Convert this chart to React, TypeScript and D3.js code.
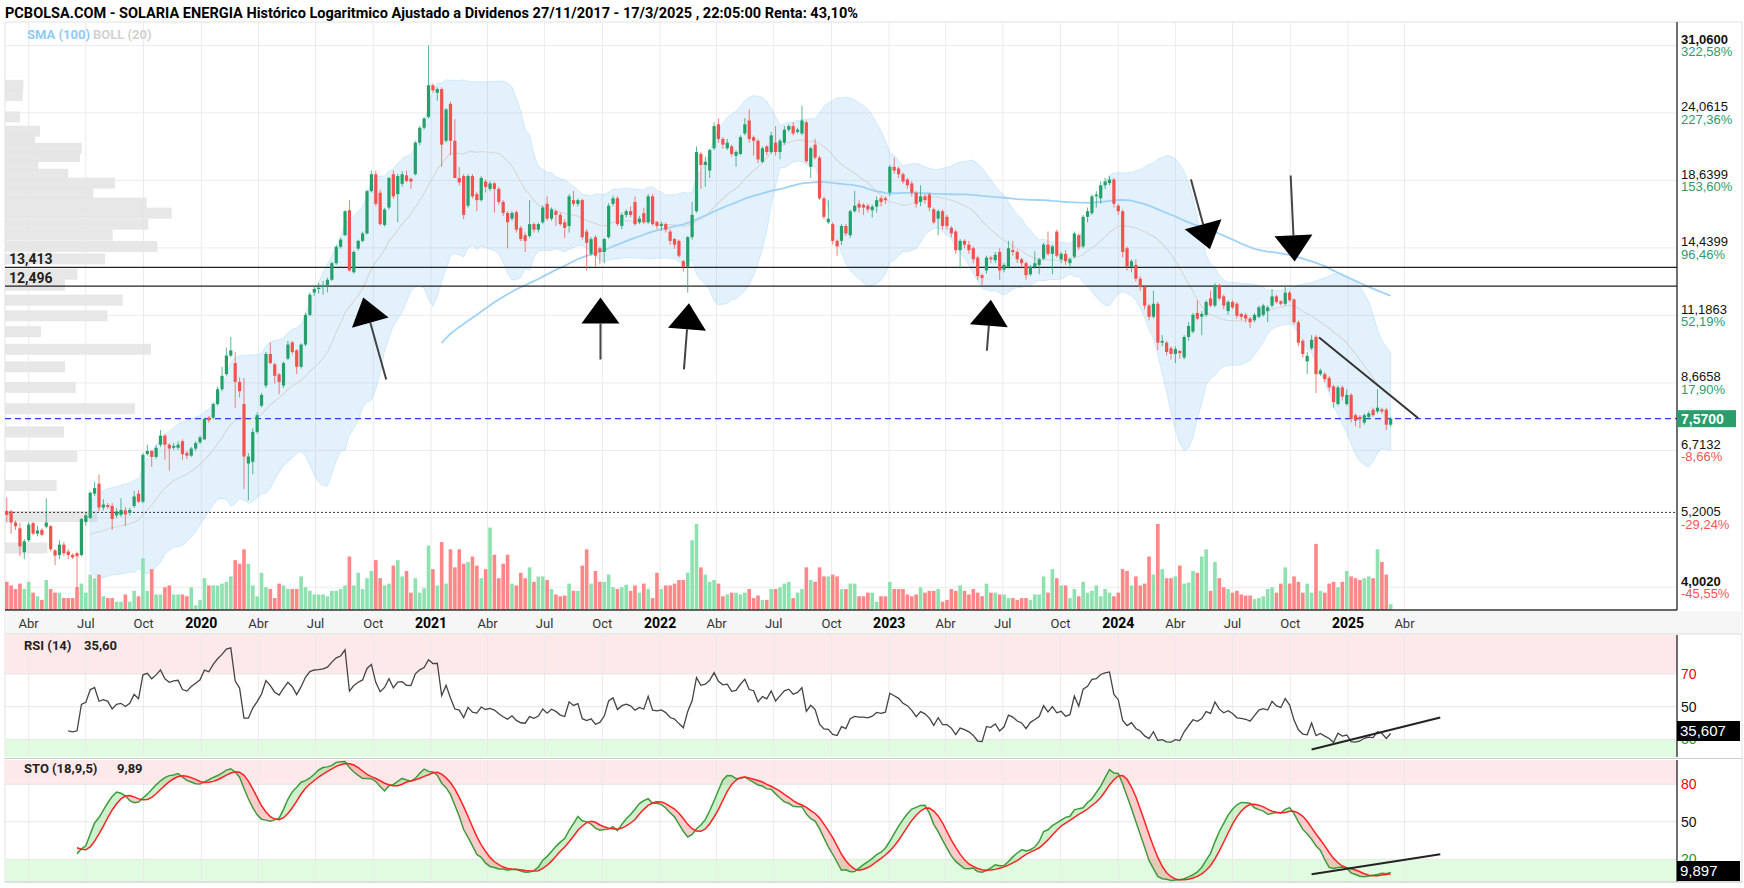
import React from 'react';
import * as d3 from 'd3';

// weekly candles, first one is the week of 25 Feb 2019
const firstWeek = new Date(2019, 1, 25);

const opens = [
  5.34, 5.33, 5.11, 5.00, 4.57, 4.78, 5.10, 4.90, 4.97, 5.03,
  5.04, 4.60, 4.52, 4.70, 4.58, 4.52, 4.55, 4.52, 5.12, 5.20,
  5.70, 5.92, 5.41, 5.46, 5.44, 5.25, 5.26, 5.35, 5.30, 5.44,
  5.70, 5.53, 6.62, 6.70, 6.55, 6.86, 7.10, 6.86, 6.78, 6.78,
  6.95, 6.65, 6.58, 6.76, 6.92, 7.00, 7.60, 7.60, 8.00, 8.46,
  8.96, 9.61, 9.34, 8.70, 8.00, 6.39, 6.43, 7.20, 7.95, 8.58,
  9.67, 9.30, 8.95, 8.58, 9.50, 10.10, 9.80, 9.21, 10.02, 11.21,
  12.20, 12.36, 12.45, 12.54, 12.80, 13.63, 14.50, 15.15, 16.65, 13.17,
  14.40, 14.83, 15.25, 17.90, 19.08, 17.79, 15.75, 16.82, 19.08, 17.70,
  18.40, 19.00, 18.75, 19.08, 21.50, 22.75, 23.70, 26.71, 25.97, 26.33,
  21.65, 24.90, 21.65, 18.81, 18.95, 16.94, 18.95, 17.70, 17.30, 18.56,
  18.05, 18.43, 18.05, 17.18, 16.48, 16.13, 16.53, 15.58, 15.15, 15.10,
  15.80, 15.47, 15.91, 17.06, 16.13, 16.59, 16.36, 15.91, 15.69, 17.30,
  17.06, 17.30, 15.36, 14.12, 15.04, 14.42, 14.22, 15.04, 17.06, 17.42,
  15.69, 16.36, 16.59, 17.18, 15.91, 16.47, 15.91, 17.55, 15.91, 15.69,
  15.80, 15.36, 14.93, 14.83, 13.73, 13.44, 15.04, 16.59, 20.60, 19.76,
  19.35, 21.05, 23.05, 21.80, 21.05, 21.20, 20.46, 20.60, 22.26, 23.38,
  21.95, 21.65, 20.00, 21.20, 20.75, 21.50, 20.75, 21.50, 22.58, 22.89,
  22.40, 22.26, 23.22, 19.62, 21.34, 20.32, 17.42, 15.91, 15.80, 14.83,
  14.83, 15.69, 15.15, 16.59, 17.06, 17.00, 16.94, 16.65, 16.88, 17.42,
  17.42, 17.80, 19.62, 19.50, 19.08, 18.70, 18.43, 17.79, 17.18, 17.55,
  17.67, 16.71, 16.13, 16.59, 16.24, 15.58, 15.36, 14.32, 14.83, 14.62,
  14.42, 13.92, 13.02, 13.26, 13.92, 13.78, 14.22, 13.30, 13.44, 14.32,
  14.22, 13.83, 13.63, 13.07, 13.44, 13.54, 13.87, 14.62, 14.12, 15.36,
  13.83, 14.12, 13.63, 13.97, 15.15, 14.52, 16.24, 16.47, 17.55, 17.42,
  18.30, 18.45, 18.70, 16.94, 16.59, 14.42, 13.44, 13.54, 12.85, 12.45,
  11.61, 11.13, 11.69, 10.09, 10.09, 9.88, 9.67, 9.78, 9.54, 10.31,
  10.52, 11.29, 11.13, 11.21, 11.93, 11.61, 12.54, 12.02, 11.37, 11.77,
  11.69, 11.25, 11.21, 11.05, 10.98, 11.13, 11.21, 11.37, 11.61, 12.02,
  11.80, 11.69, 12.19, 11.88, 10.90, 10.16, 9.40, 9.88, 10.31, 8.96,
  8.96, 8.83, 8.55, 8.00, 8.52, 8.00, 8.28, 7.67, 7.62, 7.46,
  7.62, 7.83, 7.78, 7.84, 7.83, 7.40,
];

const highs = [
  5.62, 5.36, 5.15, 5.10, 4.80, 5.12, 5.12, 5.05, 5.00, 5.60,
  5.06, 4.62, 4.78, 4.75, 4.62, 4.55, 4.58, 5.20, 5.30, 5.75,
  5.96, 6.13, 5.58, 5.50, 5.50, 5.40, 5.60, 5.42, 5.40, 5.76,
  5.78, 6.65, 6.86, 6.72, 6.85, 7.25, 7.15, 6.90, 6.90, 6.95,
  7.00, 6.70, 6.80, 6.95, 7.10, 7.60, 7.65, 8.05, 8.55, 9.21,
  9.90, 10.31, 9.74, 8.85, 8.83, 6.65, 7.30, 7.75, 8.35, 9.74,
  10.09, 9.35, 9.00, 9.40, 10.16, 10.15, 9.85, 10.06, 11.30, 12.20,
  12.55, 12.65, 12.75, 12.90, 13.70, 14.60, 15.00, 16.65, 17.30, 14.30,
  14.90, 15.35, 18.00, 19.35, 19.35, 18.00, 16.80, 18.90, 19.35, 19.10,
  19.30, 19.35, 18.85, 21.65, 22.90, 23.70, 31.06, 26.90, 26.50, 26.50,
  24.50, 25.10, 23.50, 19.60, 19.10, 19.10, 19.10, 17.85, 18.95, 18.70,
  18.60, 18.55, 18.20, 17.30, 16.60, 16.60, 16.65, 15.70, 15.30, 17.30,
  15.90, 15.90, 16.95, 17.55, 16.82, 16.70, 16.50, 16.10, 17.70, 17.90,
  17.40, 17.40, 15.50, 15.05, 15.15, 14.50, 15.00, 17.10, 17.60, 17.55,
  16.50, 16.70, 16.90, 17.55, 16.30, 16.80, 17.70, 17.70, 16.00, 15.95,
  15.90, 15.50, 15.00, 14.90, 13.80, 15.10, 17.18, 21.20, 20.75, 20.40,
  21.00, 23.22, 23.54, 21.95, 21.80, 21.34, 20.90, 22.10, 23.60, 24.38,
  22.10, 21.80, 21.20, 21.30, 22.40, 22.90, 21.80, 22.89, 23.05, 23.22,
  22.74, 24.73, 23.38, 21.20, 21.80, 20.46, 17.55, 17.30, 15.90, 14.90,
  15.80, 15.80, 16.70, 17.92, 17.30, 17.10, 17.06, 17.00, 17.55, 17.55,
  17.55, 19.76, 20.32, 19.62, 19.20, 18.81, 18.60, 17.90, 18.30, 17.70,
  17.79, 16.82, 16.70, 16.70, 16.36, 15.69, 15.47, 14.93, 14.93, 14.83,
  14.52, 14.02, 13.10, 14.02, 14.02, 14.22, 14.42, 13.63, 14.83, 14.83,
  14.32, 13.92, 13.73, 13.54, 14.25, 13.92, 14.72, 15.36, 14.62, 15.47,
  14.22, 14.32, 13.92, 15.36, 15.25, 16.36, 16.82, 17.67, 17.90, 18.56,
  18.81, 18.95, 18.81, 17.06, 16.70, 14.52, 13.83, 13.83, 12.98, 12.54,
  11.69, 12.28, 11.77, 10.38, 10.16, 9.95, 9.95, 9.81, 10.38, 10.90,
  11.29, 11.85, 11.37, 11.85, 12.28, 12.64, 12.62, 12.10, 11.85, 11.85,
  11.77, 11.29, 11.29, 11.13, 11.29, 11.61, 11.69, 11.61, 12.36, 12.10,
  11.85, 12.54, 12.28, 11.93, 10.98, 10.23, 9.74, 10.38, 10.38, 9.15,
  9.02, 8.90, 8.60, 8.58, 8.58, 8.46, 8.34, 7.72, 7.67, 7.72,
  7.78, 7.89, 8.46, 7.89, 7.89, 7.62,
];

const lows = [
  5.11, 4.90, 4.97, 4.50, 4.45, 4.75, 4.87, 4.85, 4.85, 5.00,
  4.58, 4.35, 4.45, 4.50, 4.45, 4.45, 3.98, 4.50, 5.05, 5.18,
  5.65, 5.33, 5.35, 5.38, 4.97, 5.20, 5.22, 5.04, 5.25, 5.40,
  5.50, 5.50, 6.58, 6.31, 6.50, 6.80, 6.48, 6.22, 6.72, 6.72,
  6.48, 6.50, 6.55, 6.70, 6.88, 6.98, 7.45, 7.55, 7.95, 8.40,
  8.90, 9.55, 7.89, 8.20, 5.80, 5.56, 6.13, 7.15, 7.90, 8.50,
  9.30, 8.65, 8.30, 8.50, 9.45, 9.65, 8.96, 9.15, 9.95, 11.15,
  12.05, 12.15, 12.10, 12.20, 12.75, 13.55, 14.40, 15.10, 13.20, 13.10,
  14.30, 14.75, 15.20, 17.80, 16.90, 15.70, 15.65, 16.70, 17.40, 15.91,
  18.20, 18.50, 18.05, 19.00, 21.30, 22.60, 23.55, 26.00, 25.20, 19.62,
  21.50, 20.50, 18.80, 18.30, 16.10, 16.80, 17.40, 16.60, 17.20, 17.80,
  17.90, 16.50, 17.00, 16.30, 14.42, 16.00, 15.30, 14.80, 14.22, 15.00,
  15.30, 15.30, 15.80, 16.00, 16.00, 15.70, 15.70, 15.00, 15.30, 16.90,
  16.90, 14.90, 13.26, 14.00, 13.44, 13.60, 13.63, 14.95, 16.90, 15.70,
  15.50, 16.20, 16.20, 15.70, 15.80, 15.80, 15.80, 15.70, 15.50, 15.40,
  15.30, 14.60, 14.40, 13.90, 13.20, 12.19, 14.90, 16.50, 18.05, 18.20,
  18.81, 20.90, 21.50, 21.00, 20.90, 20.40, 19.62, 20.50, 22.10, 21.50,
  20.46, 19.90, 19.90, 20.50, 20.60, 20.46, 20.18, 21.34, 22.40, 22.10,
  22.26, 22.10, 19.90, 18.81, 20.18, 17.30, 16.10, 15.80, 14.62, 14.02,
  14.60, 15.10, 15.00, 16.50, 16.50, 16.36, 16.50, 16.20, 16.50, 16.90,
  17.06, 17.55, 19.10, 18.80, 18.40, 18.05, 17.55, 16.82, 16.90, 17.06,
  16.59, 15.80, 15.15, 15.47, 15.47, 15.04, 14.12, 13.35, 14.42, 14.12,
  13.63, 12.80, 12.54, 13.10, 13.63, 13.63, 12.80, 13.17, 13.35, 14.02,
  13.63, 13.35, 12.80, 12.98, 13.35, 13.07, 13.78, 14.02, 13.07, 13.92,
  13.63, 13.54, 13.35, 13.87, 14.32, 14.42, 15.91, 16.36, 16.82, 17.06,
  18.05, 18.30, 16.82, 16.36, 13.92, 13.26, 13.17, 12.71, 12.28, 11.45,
  10.98, 11.05, 9.81, 9.95, 9.61, 9.47, 9.34, 9.50, 9.47, 10.16,
  10.45, 10.98, 10.38, 11.13, 11.53, 11.53, 11.85, 11.45, 11.21, 11.45,
  11.05, 10.98, 10.90, 10.67, 10.90, 11.05, 11.13, 10.90, 11.53, 11.69,
  11.61, 11.61, 11.77, 10.82, 9.95, 9.54, 8.96, 9.81, 8.34, 8.90,
  8.70, 8.40, 7.89, 7.95, 8.11, 7.95, 7.46, 7.35, 7.30, 7.40,
  7.56, 7.62, 7.72, 7.72, 7.25, 7.35,
];

const closes = [
  5.26, 5.11, 5.04, 4.67, 4.76, 5.07, 4.90, 4.96, 4.88, 5.11,
  4.62, 4.51, 4.70, 4.55, 4.52, 4.48, 4.50, 5.18, 5.25, 5.72,
  5.82, 5.41, 5.47, 5.42, 5.18, 5.33, 5.36, 5.27, 5.36, 5.64,
  5.53, 6.60, 6.70, 6.55, 6.78, 7.10, 6.86, 6.76, 6.83, 6.86,
  6.62, 6.58, 6.76, 6.90, 7.05, 7.56, 7.52, 8.00, 8.46, 8.90,
  9.61, 9.80, 8.70, 8.40, 6.56, 6.56, 7.20, 7.67, 8.28, 9.67,
  9.34, 8.90, 8.70, 9.34, 10.02, 9.74, 9.21, 10.02, 11.21, 12.10,
  12.36, 12.42, 12.55, 12.80, 13.63, 14.50, 14.90, 16.59, 13.26, 14.22,
  14.83, 15.25, 17.90, 19.08, 17.06, 15.80, 16.70, 18.81, 17.55, 18.95,
  19.08, 18.60, 18.56, 21.50, 22.75, 23.55, 26.71, 26.21, 26.33, 21.34,
  24.38, 21.65, 18.81, 18.50, 16.36, 18.95, 17.55, 17.30, 18.81, 18.18,
  18.43, 18.05, 17.18, 16.48, 15.91, 16.48, 15.47, 14.93, 14.83, 15.80,
  15.47, 15.80, 16.82, 16.13, 16.70, 16.36, 15.80, 15.58, 17.55, 17.06,
  17.30, 15.04, 14.72, 14.93, 14.02, 14.22, 14.93, 16.94, 17.42, 15.80,
  16.36, 16.59, 16.36, 15.80, 16.13, 15.91, 17.55, 15.80, 15.69, 15.80,
  15.47, 14.83, 14.62, 14.02, 13.44, 15.04, 16.36, 20.75, 19.76, 20.00,
  20.90, 22.89, 21.80, 21.34, 21.50, 20.60, 20.75, 21.95, 23.05, 21.80,
  21.65, 20.18, 21.05, 20.75, 22.10, 20.75, 21.65, 22.58, 22.89, 22.26,
  22.58, 23.38, 20.04, 21.05, 20.32, 17.42, 16.24, 16.13, 14.83, 14.52,
  15.69, 15.25, 16.59, 16.94, 16.82, 16.82, 16.70, 16.88, 17.30, 17.18,
  17.30, 19.62, 19.35, 19.08, 18.56, 18.30, 17.79, 17.06, 17.55, 17.30,
  16.82, 15.91, 16.59, 15.69, 15.69, 15.25, 14.32, 14.83, 14.62, 14.32,
  13.83, 12.98, 12.89, 13.92, 13.83, 14.07, 13.26, 13.54, 14.42, 14.22,
  13.83, 13.63, 13.02, 13.44, 13.63, 13.83, 14.62, 14.12, 14.52, 14.02,
  14.12, 13.73, 13.83, 15.25, 14.47, 16.24, 16.59, 17.55, 17.67, 18.30,
  18.56, 18.70, 17.06, 16.59, 14.22, 13.44, 13.73, 12.85, 12.45, 11.61,
  11.13, 11.69, 10.09, 10.16, 9.74, 9.67, 9.85, 9.70, 10.31, 10.75,
  11.21, 11.05, 11.25, 11.77, 11.61, 12.54, 11.93, 11.61, 11.77, 11.53,
  11.17, 11.13, 11.05, 10.90, 11.21, 11.53, 11.61, 11.53, 12.02, 11.77,
  11.69, 12.19, 11.85, 10.90, 10.09, 9.67, 9.60, 10.20, 8.96, 9.08,
  8.79, 8.52, 8.06, 8.52, 8.23, 8.28, 7.56, 7.51, 7.56, 7.67,
  7.72, 7.67, 7.89, 7.78, 7.40, 7.57,
];

const volumes = [
  78, 68, 58, 73, 58, 78, 48, 38, 28, 83,
  58, 48, 48, 33, 33, 33, 63, 73, 48, 98,
  88, 98, 38, 33, 33, 23, 23, 43, 23, 53,
  38, 143, 53, 113, 43, 43, 63, 68, 43, 43,
  43, 38, 63, 13, 28, 88, 68, 68, 68, 73,
  78, 93, 138, 128, 168, 128, 68, 38, 103, 63,
  58, 33, 73,
  68, 58, 58, 58, 93, 63, 53, 43, 43, 43,
  38, 53, 53, 58, 68, 148, 68, 103, 58, 88,
  108, 138, 88, 68, 73, 123, 138, 93, 108, 48,
  88, 48, 60, 178, 113, 68, 188, 73, 168, 118,
  168, 128, 133, 148, 123, 88, 113, 228, 153, 88,
  128, 153, 73, 68, 103, 88, 118, 78, 93, 93,
  83, 58, 43, 38,
  40, 73, 53, 53, 123, 168, 73, 108, 78, 78,
  98, 63, 58, 63, 70, 53, 68, 48, 73, 58,
  33, 103, 58, 68, 68, 73, 83, 83, 103, 193,
  238, 118, 98, 78, 83, 73, 38, 43, 48, 48,
  43, 48, 58, 33, 40, 28, 28, 58, 58, 63,
  73, 78, 33, 48, 58, 118, 83, 78, 118, 93,
  93, 98, 93, 58,
  58, 73, 73, 38, 38, 48, 48, 23, 38, 38,
  78, 58, 58, 58, 43, 38, 43, 63, 48, 53,
  53, 58, 23, 28, 58, 53, 68, 53, 43, 58,
  48, 38, 73, 48, 48, 43, 43, 33, 33, 28,
  33, 33, 28, 43, 43, 93, 48, 113, 88, 68,
  68, 33, 58, 38, 78, 48, 53, 68, 38, 58,
  48, 38, 48, 113,
  108, 68, 93, 68, 73, 148, 98, 238, 113, 88,
  88, 93, 123, 73, 76, 108, 103, 148, 168, 53,
  133, 88, 63, 58, 48, 53, 43, 40, 40, 30,
  33, 38, 58, 63, 48, 73, 118, 73, 93, 78,
  48, 73, 48, 183, 53, 48, 73, 78, 63, 78,
  108, 93, 88, 83, 88, 93, 88, 168, 133, 98,
  16,
];

// volume-at-price histogram on the left edge
const profilePrices = [
  26.7, 25.7, 23.7, 22.45, 21.8, 21.05, 20.4, 19.76, 19.08, 18.45,
  17.79, 17.1, 16.47, 15.8, 15.16, 14.52, 13.85, 13.07, 12.54, 11.85,
  11.17, 10.52, 9.84, 9.21, 8.52, 7.86, 7.2, 6.56, 5.88, 5.23, 4.64,
];
const profileVolumes = [
  55, 53, 45, 105, 90, 230, 225, 100, 190, 330,
  265, 425, 500, 430, 323, 457, 300, 217, 180, 353,
  307, 108, 438, 180, 212, 390, 177, 217, 155, 277, 127,
];

const priceTicks = [31.06, 24.0615, 18.6399, 14.4399, 11.1863, 8.6658, 6.7132, 5.2005, 4.002];
const priceTickLabels = ['31,0600', '24,0615', '18,6399', '14,4399', '11,1863', '8,6658', '6,7132', '5,2005', '4,0020'];
const pctTickLabels = ['322,58%', '227,36%', '153,60%', '96,46%', '52,19%', '17,90%', '-8,66%', '-29,24%', '-45,55%'];
const quarterNames = ['', 'Abr', 'Jul', 'Oct'];

const levels = [13.413, 12.496];
const levelLabels = ['13,413', '12,496'];
const lastPrice = 7.57;
const basePrice = 5.31;

const rsiTicks = [70, 50, 30];
const stoTicks = [80, 50, 20];

// hand-drawn annotations, anchored in data space
const arrows = [
  { date: '2020-09-15', price: 11.97, dx: 23, dy: 82 },
  { date: '2021-09-28', price: 11.97, dx: 0, dy: 62 },
  { date: '2022-02-16', price: 11.71, dx: -5, dy: 66 },
  { date: '2023-06-12', price: 11.87, dx: -4, dy: 51 },
  { date: '2024-05-26', price: 14.36, dx: -19, dy: -70 },
  { date: '2024-10-08', price: 13.72, dx: -4, dy: -86 },
];
const priceTrend = [{ date: '2024-11-16', v: 10.29 }, { date: '2025-04-23', v: 7.58 }];
const rsiTrend = [{ date: '2024-11-04', v: 23.7 }, { date: '2025-05-28', v: 43.4 }];
const stoTrend = [{ date: '2024-11-04', v: 8.1 }, { date: '2025-05-28', v: 24.1 }];

const UP = '#24a06b';
const DOWN = '#f4524d';
const FONT = 'Roboto, "Liberation Sans", sans-serif';
const AXFONT = '"Liberation Sans", Arial, sans-serif';

const L = 5, R = 1677;
const PT = 22, PB = 610;
const RT = 635, RB = 757;
const ST = 760, SB = 882;

const day = (s: string) => new Date(s + 'T00:00:00');

export default function App() {
  const n = closes.length;
  const dates = closes.map((_, i) => d3.timeDay.offset(firstWeek, i * 7));

  const x = d3.scaleTime().domain([new Date(2020, 0, 1), new Date(2025, 0, 1)]).range([201.3, 1348]);
  const y = d3.scaleLog().domain([8.666, 31.06]).range([382.9, 45.4]);
  const vy = d3.scaleLinear().domain([0, 238]).range([0, 86]);
  const px = d3.scaleLinear().domain([0, 500]).range([0, 166.7]);
  const yr = d3.scaleLinear().domain([30, 70]).range([739.3, 674]);
  const ys = d3.scaleLinear().domain([20, 80]).range([859.3, 784.3]);

  // Bollinger (20, 2) and SMA 100
  const bb: { i: number; m: number; up: number; lo: number }[] = [];
  for (let i = 19; i < n; i++) {
    const w = closes.slice(i - 19, i + 1);
    const m = d3.mean(w) as number;
    const sd = Math.sqrt(d3.mean(w, v => (v - m) * (v - m)) as number);
    bb.push({ i, m, up: m + 2 * sd, lo: Math.max(m - 2 * sd, 1) });
  }
  const sma: { i: number; v: number }[] = [];
  for (let i = 99; i < n; i++) sma.push({ i, v: d3.mean(closes.slice(i - 99, i + 1)) as number });

  // RSI 14 (Wilder)
  const rsi: { i: number; v: number }[] = [];
  let g = 0, l = 0;
  for (let i = 1; i <= 14; i++) {
    const d = closes[i] - closes[i - 1];
    if (d > 0) g += d; else l -= d;
  }
  g /= 14; l /= 14;
  rsi.push({ i: 14, v: 100 - 100 / (1 + g / l) });
  for (let i = 15; i < n; i++) {
    const d = closes[i] - closes[i - 1];
    g = (g * 13 + Math.max(d, 0)) / 14;
    l = (l * 13 + Math.max(-d, 0)) / 14;
    rsi.push({ i, v: 100 - 100 / (1 + g / l) });
  }

  // Stochastic 18,9,5 (partial windows at the start, shown from week 16)
  const raw: number[] = [];
  const kk: number[] = [];
  const sto: { i: number; k: number; d: number }[] = [];
  for (let i = 0; i < n; i++) {
    const s = Math.max(0, i - 17);
    const hh = d3.max(highs.slice(s, i + 1)) as number;
    const ll = d3.min(lows.slice(s, i + 1)) as number;
    raw.push(hh === ll ? 50 : ((closes[i] - ll) / (hh - ll)) * 100);
    const k = d3.mean(raw.slice(-9)) as number;
    kk.push(k);
    if (i >= 16) sto.push({ i, k, d: d3.mean(kk.slice(-5)) as number });
  }

  const X = (i: number) => x(dates[i]);
  const bbArea = d3.area<typeof bb[0]>().x(d => X(d.i)).y0(d => y(d.lo)).y1(d => y(d.up));
  const bbMid = d3.line<typeof bb[0]>().x(d => X(d.i)).y(d => y(d.m));
  const smaLine = d3.line<typeof sma[0]>().x(d => X(d.i)).y(d => y(d.v));
  const rsiLine = d3.line<typeof rsi[0]>().x(d => X(d.i)).y(d => yr(d.v));
  const kLine = d3.line<typeof sto[0]>().x(d => X(d.i)).y(d => ys(d.k));
  const dLine = d3.line<typeof sto[0]>().x(d => X(d.i)).y(d => ys(d.d));
  const upFill = d3.area<typeof sto[0]>().x(d => X(d.i)).y0(d => ys(d.d)).y1(d => ys(Math.max(d.k, d.d)));
  const dnFill = d3.area<typeof sto[0]>().x(d => X(d.i)).y0(d => ys(d.d)).y1(d => ys(Math.min(d.k, d.d)));

  const quarters = d3.timeMonth.every(3)!.range(new Date(2019, 3, 1), new Date(2025, 4, 1));

  const arrowShape = (a: typeof arrows[0], idx: number) => {
    const tx = x(day(a.date)), ty = y(a.price);
    const len = Math.hypot(a.dx, a.dy);
    const ux = a.dx / len, uy = a.dy / len;
    const bx = tx + ux * 26, by = ty + uy * 26;
    const p1 = [bx - uy * 19, by + ux * 19];
    const p2 = [bx + uy * 19, by - ux * 19];
    return (
      <g key={'ar' + idx}>
        <line x1={bx} y1={by} x2={tx + a.dx} y2={ty + a.dy} stroke="#444" strokeWidth={2} />
        <polygon points={`${tx},${ty} ${p1[0]},${p1[1]} ${p2[0]},${p2[1]}`} fill="#000" />
      </g>
    );
  };

  return (
    <svg width={1744} height={888} style={{ position: 'fixed', left: 0, top: 0, background: '#fff' }}>
      <defs>
        <clipPath id="pc"><rect x={L} y={PT} width={R - L} height={PB - PT} /></clipPath>
        <clipPath id="rc"><rect x={L} y={RT} width={R - L} height={RB - RT} /></clipPath>
        <clipPath id="sc"><rect x={L} y={ST} width={R - L} height={SB - ST} /></clipPath>
      </defs>
      <rect x={0} y={0} width={1744} height={888} fill="#fff" />

      <text x={5} y={18} fontFamily={FONT} fontWeight="bold" fontSize={14} textLength={853} lengthAdjust="spacingAndGlyphs">
        PCBOLSA.COM - SOLARIA ENERGIA Histórico Logaritmico Ajustado a Dividenos 27/11/2017 - 17/3/2025 , 22:05:00 Renta: 43,10%
      </text>

      {/* panel backgrounds */}
      <rect x={L} y={PT} width={1742 - L} height={SB - PT} fill="none" stroke="#e2e2e2" />
      <rect x={L} y={PB + 1} width={1742 - L} height={RT - PB - 2} fill="#f6f6f6" />
      <rect x={L} y={RT} width={R - L} height={yr(70) - RT} fill="#fde9e9" />
      <rect x={L} y={yr(30)} width={R - L} height={RB - yr(30)} fill="#e1fbe1" />
      <rect x={L} y={ST} width={R - L} height={ys(80) - ST} fill="#fde9e9" />
      <rect x={L} y={ys(20)} width={R - L} height={SB - ys(20)} fill="#e1fbe1" />

      {/* grid */}
      {quarters.map((q, i) => (
        <g key={'vq' + i} stroke="#ebebeb">
          <line x1={x(q)} x2={x(q)} y1={PT} y2={PB} />
          <line x1={x(q)} x2={x(q)} y1={RT} y2={RB} />
          <line x1={x(q)} x2={x(q)} y1={ST} y2={SB} />
        </g>
      ))}
      {priceTicks.map((p, i) => (
        <line key={'hg' + i} x1={L} x2={R} y1={y(p)} y2={y(p)} stroke="#ebebeb" />
      ))}
      {rsiTicks.map((t, i) => <line key={'rg' + i} x1={L} x2={R} y1={yr(t)} y2={yr(t)} stroke="#e6e6e6" />)}
      {stoTicks.map((t, i) => <line key={'sg' + i} x1={L} x2={R} y1={ys(t)} y2={ys(t)} stroke="#e6e6e6" />)}

      <g clipPath="url(#pc)">
        {profilePrices.map((p, i) => (
          <rect key={'pf' + i} x={L} y={y(p) - 5.5} width={px(profileVolumes[i])} height={11} fill="#e4e4e4" opacity={0.9} />
        ))}
        <path d={bbArea(bb) || ''} fill="rgba(150,205,245,0.28)" stroke="rgba(150,205,245,0.35)" />
        <path d={bbMid(bb) || ''} fill="none" stroke="#d9d9d9" strokeWidth={1.2} />
        <path d={smaLine(sma) || ''} fill="none" stroke="#9fd2f6" strokeWidth={1.8} />

        {volumes.map((v, i) => (
          <rect key={'v' + i} x={X(i) - 1.8} y={PB - vy(v)} width={3.6} height={vy(v)}
            fill={closes[i] >= opens[i] ? '#8ee2b0' : '#ff8787'} />
        ))}

        {levels.map((p, i) => (
          <line key={'lv' + i} x1={L} x2={R} y1={y(p)} y2={y(p)} stroke="#222" strokeWidth={1.3} />
        ))}
        <line x1={L} x2={R} y1={y(lastPrice)} y2={y(lastPrice)} stroke="#2b3bff" strokeWidth={1.3} strokeDasharray="6,4" />
        <line x1={L} x2={R} y1={y(basePrice)} y2={y(basePrice)} stroke="#333" strokeWidth={1} strokeDasharray="2,2" />

        {closes.map((c, i) => {
          const o = opens[i];
          const col = c >= o ? UP : DOWN;
          const cx = X(i);
          const top = y(Math.max(o, c));
          const h = Math.max(1, y(Math.min(o, c)) - top);
          return (
            <g key={'c' + i}>
              <line x1={cx} x2={cx} y1={y(highs[i])} y2={y(lows[i])} stroke={col} strokeOpacity={0.75} strokeWidth={1} />
              <rect x={cx - 1.6} y={top} width={3.2} height={h} fill={col} />
            </g>
          );
        })}

        {arrows.map(arrowShape)}
        <line x1={x(day(priceTrend[0].date))} y1={y(priceTrend[0].v)} x2={x(day(priceTrend[1].date))} y2={y(priceTrend[1].v)}
          stroke="#333" strokeWidth={2} />
      </g>

      {levels.map((p, i) => (
        <text key={'lt' + i} x={9} y={y(p) - 3} fontFamily={FONT} fontWeight="bold" fontSize={14} fill="#222">{levelLabels[i]}</text>
      ))}
      <text x={27} y={39} fontFamily={FONT} fontWeight="bold" fontSize={13} fill="#90cbf5">SMA (100)</text>
      <text x={93} y={39} fontFamily={FONT} fontWeight="bold" fontSize={13} fill="#d2d2d2">BOLL (20)</text>

      {/* axis frame */}
      <line x1={L} x2={R} y1={PB} y2={PB} stroke="#333" strokeWidth={1.3} />
      <line x1={R} x2={R} y1={PT} y2={PB} stroke="#222" strokeWidth={1.3} />
      <line x1={R} x2={R} y1={RT} y2={RB} stroke="#222" strokeWidth={1.3} />
      <line x1={R} x2={R} y1={ST} y2={SB} stroke="#222" strokeWidth={1.3} />
      <line x1={L} x2={1742} y1={RT - 1} y2={RT - 1} stroke="#ddd" />
      <line x1={L} x2={1742} y1={RB + 1.5} y2={RB + 1.5} stroke="#ccc" />
      <line x1={L} x2={1742} y1={SB} y2={SB} stroke="#ccc" />

      {quarters.map((q, i) => {
        const m = q.getMonth();
        const isYear = m === 0;
        return (
          <text key={'xl' + i} x={x(q)} y={628} textAnchor="middle" fontFamily={FONT}
            fontSize={isYear ? 14 : 13} fontWeight={isYear ? 'bold' : 'normal'} fill={isYear ? '#000' : '#333'}>
            {isYear ? String(q.getFullYear()) : quarterNames[m / 3]}
          </text>
        );
      })}

      {priceTicks.map((p, i) => (
        <g key={'pl' + i} fontFamily={AXFONT} fontSize={13}>
          <text x={1681} y={y(p) - 1.5} fill="#111" fontWeight={i === 0 || i === priceTicks.length - 1 ? 'bold' : 'normal'}>
            {priceTickLabels[i]}
          </text>
          <text x={1681} y={y(p) + 11} fill={pctTickLabels[i].startsWith('-') ? '#f25555' : '#2a9d6c'}>{pctTickLabels[i]}</text>
        </g>
      ))}
      <rect x={1677} y={y(lastPrice) - 8.5} width={59} height={17} fill="#2a9d6c" />
      <text x={1681} y={y(lastPrice) + 5} fontFamily={AXFONT} fontSize={14} fontWeight="bold" fill="#fff">7,5700</text>

      {/* RSI */}
      <g clipPath="url(#rc)">
        <path d={rsiLine(rsi) || ''} fill="none" stroke="#444" strokeWidth={1.3} />
        <line x1={x(day(rsiTrend[0].date))} y1={yr(rsiTrend[0].v)} x2={x(day(rsiTrend[1].date))} y2={yr(rsiTrend[1].v)}
          stroke="#222" strokeWidth={2} />
      </g>
      <text x={24} y={650} fontFamily={FONT} fontWeight="bold" fontSize={13} fill="#222">RSI (14)</text>
      <text x={84} y={650} fontFamily={FONT} fontWeight="bold" fontSize={13} fill="#222">35,60</text>
      {rsiTicks.map((t, i) => (
        <text key={'rl' + i} x={1681} y={yr(t) + 5} fontFamily={AXFONT} fontSize={14}
          fill={t === 70 ? '#f00' : t === 30 ? '#1a9a1a' : '#111'}>{t}</text>
      ))}
      <rect x={1677} y={721} width={63} height={20} fill="#000" />
      <text x={1680} y={736} fontFamily={AXFONT} fontSize={15} fill="#fff">35,607</text>

      {/* Stochastic */}
      <g clipPath="url(#sc)">
        <path d={upFill(sto) || ''} fill="rgba(60,200,60,0.25)" />
        <path d={dnFill(sto) || ''} fill="rgba(240,60,60,0.25)" />
        <path d={kLine(sto) || ''} fill="none" stroke="#3c9c3c" strokeWidth={1.5} />
        <path d={dLine(sto) || ''} fill="none" stroke="#f22" strokeWidth={1.5} />
        <line x1={x(day(stoTrend[0].date))} y1={ys(stoTrend[0].v)} x2={x(day(stoTrend[1].date))} y2={ys(stoTrend[1].v)}
          stroke="#222" strokeWidth={2} />
      </g>
      <text x={24} y={773} fontFamily={FONT} fontWeight="bold" fontSize={13} fill="#222">STO (18,9,5)</text>
      <text x={117} y={773} fontFamily={FONT} fontWeight="bold" fontSize={13} fill="#222">9,89</text>
      {stoTicks.map((t, i) => (
        <text key={'sl' + i} x={1681} y={ys(t) + 5} fontFamily={AXFONT} fontSize={14}
          fill={t === 80 ? '#f00' : t === 20 ? '#1a9a1a' : '#111'}>{t}</text>
      ))}
      <rect x={1677} y={861} width={63} height={20} fill="#000" />
      <text x={1680} y={876} fontFamily={AXFONT} fontSize={15} fill="#fff">9,897</text>
    </svg>
  );
}
